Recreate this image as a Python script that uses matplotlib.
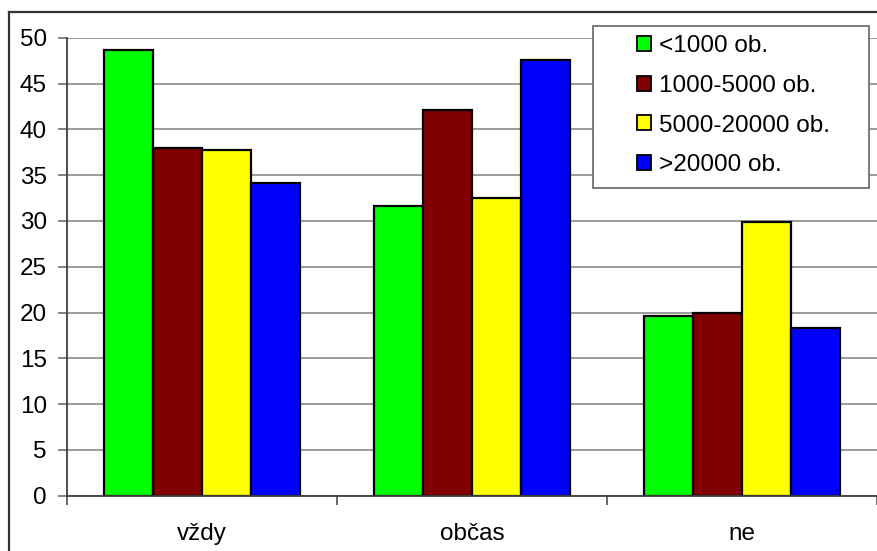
import matplotlib
matplotlib.use("Agg")
import matplotlib.pyplot as plt
from matplotlib.lines import Line2D
from matplotlib.patches import Rectangle, Patch
import numpy as np

categories = ["vždy", "občas", "ne"]
series_names = ["<1000 ob.", "1000-5000 ob.", "5000-20000 ob.", ">20000 ob."]
s_lt1000 = [48.7, 31.6, 19.6]
s_1000_5000 = [38.0, 42.1, 20.0]
s_5000_20000 = [37.7, 32.5, 29.9]
s_gt20000 = [34.1, 47.6, 18.3]
colors = ["#00FF00", "#800000", "#FFFF00", "#0000FF"]
yticks = [0, 5, 10, 15, 20, 25, 30, 35, 40, 45, 50]

W, H = 878, 551
plt.rcParams['font.family'] = ['Liberation Sans', 'DejaVu Sans']
FS = 17.5

fig = plt.figure(figsize=(W / 100, H / 100), dpi=100)
ax = fig.add_axes([67 / W, (H - 495.7) / H, 810 / W, (495.7 - 37.7) / H])

series = [s_lt1000, s_1000_5000, s_5000_20000, s_gt20000]
x = np.arange(len(categories))
bw = 1 / 5.5
for k, (vals, c, name) in enumerate(zip(series, colors, series_names)):
    ax.bar(x + (k - 1.5) * bw, vals, width=bw, color=c, edgecolor="black",
           linewidth=1.6, label=name, zorder=3)

ax.set_xlim(-0.5, 2.5)
ax.set_ylim(0, 50)
ax.set_yticks(yticks)
ax.yaxis.grid(True, color="#808080", linewidth=1.1, zorder=0)
ax.set_axisbelow(True)
for s in ["top", "right"]:
    ax.spines[s].set_visible(False)
for s in ["left", "bottom"]:
    ax.spines[s].set_color("#404040")
    ax.spines[s].set_linewidth(1.3)
ax.spines["bottom"].set_zorder(4)

ax.set_xticks(x)
ax.set_xticklabels(categories, fontsize=FS)
ax.set_xticks([-0.5, 0.5, 1.5, 2.5], minor=True)
ax.tick_params(axis="x", which="major", length=0, pad=20)
ax.tick_params(axis="x", which="minor", length=6.5, width=1.1, color="#404040", direction="out")
ax.tick_params(axis="y", length=6.5, width=1.1, color="#606060", direction="out",
               labelsize=FS, pad=8)

# legend frame
lx0, ly0, lx1, ly1 = 592.7, 25.7, 869, 187.7
fig.add_artist(Rectangle((lx0 / W, (H - ly1) / H), (lx1 - lx0) / W, (ly1 - ly0) / H,
                         transform=fig.transFigure, facecolor="white",
                         edgecolor="#707070", linewidth=1.3, zorder=5))
handles = [Patch(facecolor=c, edgecolor="black", linewidth=1.3) for c in colors]
leg = fig.legend(handles, series_names, loc="upper left",
                 bbox_to_anchor=(636.7 / W, (H - 35.5) / H), frameon=False,
                 fontsize=FS, handlelength=0.58, handleheight=0.58,
                 handletextpad=0.33, labelspacing=0.72, borderpad=0, borderaxespad=0)
leg.set_zorder(6)

# outer chart frame (cropped)
fig.add_artist(Line2D([8.5 / W, 8.5 / W], [0, (H - 11.7) / H], transform=fig.transFigure,
                      color="#333333", linewidth=1.6))
fig.add_artist(Line2D([8.5 / W, 1.0], [(H - 11.7) / H, (H - 11.7) / H], transform=fig.transFigure,
                      color="#333333", linewidth=1.6))

fig.savefig("out.png", dpi=100)
